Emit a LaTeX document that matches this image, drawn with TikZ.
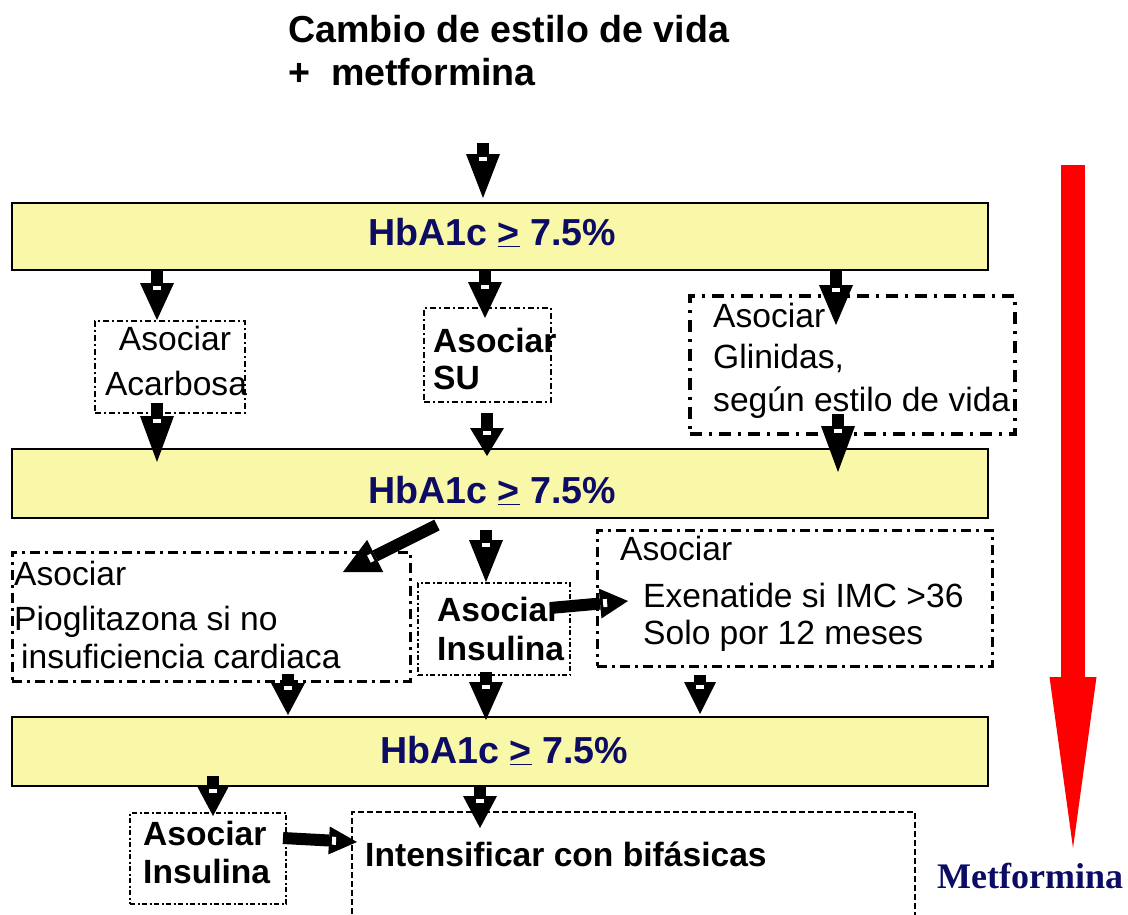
\documentclass[tikz,border=0pt]{standalone}
\usepackage{fontspec}
\setmainfont{Liberation Sans}
\newfontfamily\serifbold{Liberation Serif}
\usetikzlibrary{arrows.meta,calc}
\definecolor{barfill}{RGB}{249,247,168}
\definecolor{navytxt}{RGB}{12,12,100}
% #1 head length, #2 head width, #3 tail, #4 tip
\newcommand\blkarrow[4]{%
  \draw[line width=12pt,-{Triangle[length=#1pt,width=#2pt,line width=0pt]}] (#3) -- (#4);
  \draw[white,line width=8pt] ($(#4)!#1pt-3pt!(#3)$) -- ($(#4)!#1pt-7pt!(#3)$);
}
\begin{document}
\begin{tikzpicture}[x=1pt,y=-1pt,
  bar/.style={rectangle,draw=black,line width=2pt,fill=barfill,inner sep=0pt},
  boxA/.style={rectangle,draw=black,line width=2.5pt,inner sep=0pt,dash pattern=on 6pt off 3pt on 2pt off 3pt},
  boxG/.style={rectangle,draw=black,line width=3.5pt,inner sep=0pt,dash pattern=on 12pt off 7pt on 3pt off 7pt},
  boxP/.style={rectangle,draw=black,line width=3pt,inner sep=0pt,dash pattern=on 10pt off 5pt on 3pt off 5pt},
  boxI/.style={rectangle,draw=black,line width=2.5pt,inner sep=0pt,dash pattern=on 5pt off 2.5pt on 2pt off 2.5pt},
  boxD/.style={rectangle,draw=black,line width=2.5pt,inner sep=0pt,dash pattern=on 6pt off 3pt},
  txt/.style={inner sep=0pt,anchor=base west,font=\fontsize{33.6}{33.6}\selectfont},
  txtc/.style={inner sep=0pt,anchor=base,font=\fontsize{33.6}{33.6}\selectfont},
  txtb/.style={inner sep=0pt,anchor=base west,font=\fontsize{33.6}{33.6}\selectfont\bfseries},
  ttl/.style={inner sep=0pt,anchor=base west,font=\fontsize{37.6}{37.6}\selectfont\bfseries},
  hba/.style={inner sep=0pt,anchor=base west,text=navytxt,font=\fontsize{37.6}{37.6}\selectfont\bfseries},
]
\useasboundingbox (0,0) rectangle (1128,914);
\clip (0,0) rectangle (1128,914);

% title
\node[ttl] (t1) at (288,42) {Cambio de estilo de vida};
\node[ttl] (t2) at (288,85) {+\ \ metformina};

% bars
\node[bar,minimum width=976pt,minimum height=67pt] (bar1) at (500,236.5) {};
\node[hba] (h1) at (368,245) {HbA1c \underline{>} 7.5\%};
\node[bar,minimum width=976pt,minimum height=69pt] (bar2) at (500,483.5) {};
\node[hba] (h2) at (368,503) {HbA1c \underline{>} 7.5\%};
\node[bar,minimum width=976pt,minimum height=69pt] (bar3) at (500,751.5) {};
\node[hba] (h3) at (380,763) {HbA1c \underline{>} 7.5\%};

% row 2 boxes
\node[boxA,minimum width=150pt,minimum height=92pt] (acarb) at (170,367) {};
\node[txtc] (ac1) at (175,350) {Asociar};
\node[txtc] (ac2) at (176,395) {Acarbosa};

\node[boxA,minimum width=127pt,minimum height=94pt] (su) at (487.5,355) {};
\node[txtb] (su1) at (433,352) {Asociar};
\node[txtb] (su2) at (433,389) {SU};

\node[boxG,minimum width=325pt,minimum height=138pt] (glin) at (852.5,365) {};
\node[txt] (gl1) at (713,327) {Asociar};
\node[txt] (gl2) at (713,368) {Glinidas,};
\node[txt] (gl3) at (713,411) {según estilo de vida};

% row 3 boxes
\node[boxP,minimum width=398pt,minimum height=129pt] (pio) at (211,616.5) {};
\node[txt] (pi1) at (14,585) {Asociar};
\node[txt] (pi2) at (14,630) {Pioglitazona si no};
\node[txt] (pi3) at (21,668) {insuficiencia cardiaca};

\node[boxI,minimum width=152pt,minimum height=92pt] (ins1) at (494,629) {};
\node[txtb] (in1) at (437,621) {Asociar};
\node[txtb] (in2) at (437,660) {Insulina};

\node[boxP,minimum width=395pt,minimum height=136pt] (exe) at (794.5,598) {};
\node[txt] (ex1) at (620,560) {Asociar};
\node[txt] (ex2) at (643,607) {Exenatide si IMC >36};
\node[txt] (ex3) at (643,644) {Solo por 12 meses};

% row 4 boxes
\node[boxI,minimum width=156pt,minimum height=91pt] (ins2) at (208,858.5) {};
\node[txtb] (iz1) at (143,845) {Asociar};
\node[txtb] (iz2) at (143,883) {Insulina};

\node[boxD,minimum width=563pt,minimum height=128pt] (intens) at (633.5,876) {};
\node[txtb] (it1) at (365,866) {Intensificar con bifásicas};

% Metformina
\node[inner sep=0pt,anchor=base west,text=navytxt,font=\serifbold\bfseries\fontsize{36}{36}\selectfont] (met) at (937,888) {Metformina};

% arrow coordinates
\coordinate (a0s) at (483,143);  \coordinate (a0e) at (483,198);
\coordinate (a1s) at (157,269);  \coordinate (a1e) at (157,320);
\coordinate (a2s) at (485,269);  \coordinate (a2e) at (485,318);
\coordinate (a3s) at (836,269);  \coordinate (a3e) at (836,325);
\coordinate (a4s) at (157,403);  \coordinate (a4e) at (157,462);
\coordinate (a5s) at (487,413);  \coordinate (a5e) at (487,456);
\coordinate (a6s) at (838,414);  \coordinate (a6e) at (838,472);
\coordinate (a7s) at (437,525);  \coordinate (a7e) at (343,572);
\coordinate (a8s) at (486,530);  \coordinate (a8e) at (486,582);
\coordinate (a9s) at (550,608);  \coordinate (a9e) at (628,601);
\coordinate (a10s) at (288,674); \coordinate (a10e) at (288,715);
\coordinate (a11s) at (486,672); \coordinate (a11e) at (486,720);
\coordinate (a12s) at (700,675); \coordinate (a12e) at (700,714);
\coordinate (a13s) at (213,776); \coordinate (a13e) at (213,816);
\coordinate (a14s) at (480,786); \coordinate (a14e) at (480,828);
\coordinate (a15s) at (283,838); \coordinate (a15e) at (357,842);

\blkarrow{44}{34}{a0s}{a0e}
\blkarrow{37}{34}{a1s}{a1e}
\blkarrow{36}{34}{a2s}{a2e}
\blkarrow{40}{34}{a3s}{a3e}
\blkarrow{46}{34}{a4s}{a4e}
\blkarrow{28}{34}{a5s}{a5e}
\blkarrow{46}{34}{a6s}{a6e}
\blkarrow{36}{36}{a7s}{a7e}
\blkarrow{42}{34}{a8s}{a8e}
\blkarrow{28}{30}{a9s}{a9e}
\blkarrow{32}{34}{a10s}{a10e}
\blkarrow{38}{34}{a11s}{a11e}
\blkarrow{32}{32}{a12s}{a12e}
\blkarrow{30}{32}{a13s}{a13e}
\blkarrow{32}{34}{a14s}{a14e}
\blkarrow{28}{28}{a15s}{a15e}

% red arrow
\coordinate (rs) at (1073,165); \coordinate (re) at (1073,848);
\draw[red,line width=24pt,-{Triangle[length=171pt,width=47pt,line width=0pt]}] (rs) -- (re);
\end{tikzpicture}
\end{document}
